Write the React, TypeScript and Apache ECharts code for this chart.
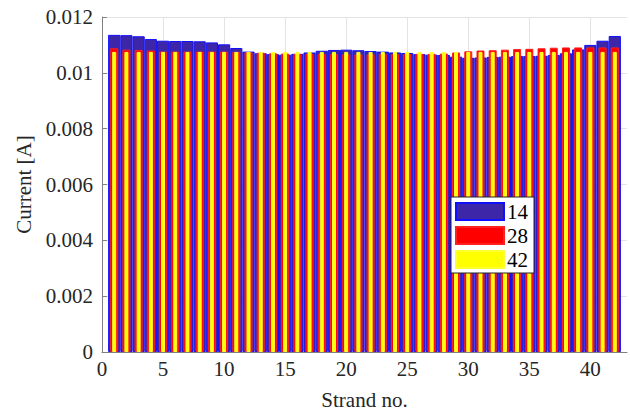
import React, { useEffect, useRef } from "react";
import * as echarts from "echarts";

// Strand numbers 1..42
const strands: number[] = Array.from({ length: 42 }, (_, i) => i + 1);

const legendNames: string[] = ["14", "28", "42"];

// Current per strand [A]
const current14: number[] = [
  0.01136, 0.01135, 0.01131, 0.01121, 0.01115, 0.01114, 0.01114, 0.01113, 0.01109, 0.01102,
  0.01089, 0.01076, 0.0107, 0.01067, 0.01065, 0.01068, 0.01073, 0.01079, 0.01082, 0.01083,
  0.01081, 0.01078, 0.01076, 0.01073, 0.01071, 0.01067, 0.01065, 0.01064, 0.01058, 0.01054,
  0.01055, 0.01057, 0.01058, 0.0106, 0.0106, 0.01061, 0.01064, 0.0107, 0.01084, 0.011,
  0.01115, 0.01132,
];
const current28: number[] = [
  0.01088, 0.01083, 0.01082, 0.0108, 0.01076, 0.01076, 0.01076, 0.01076, 0.01076, 0.01076,
  0.01075, 0.01074, 0.01072, 0.0107, 0.01069, 0.01068, 0.01068, 0.01067, 0.01067, 0.01066,
  0.01066, 0.01066, 0.01067, 0.01067, 0.01068, 0.01068, 0.01068, 0.01069, 0.01073, 0.01077,
  0.0108, 0.01081, 0.01083, 0.01085, 0.01086, 0.01088, 0.0109, 0.01091, 0.01091, 0.01091,
  0.01091, 0.01091,
];
const current42: number[] = [
  0.01075, 0.01075, 0.01075, 0.01075, 0.01075, 0.01075, 0.01075, 0.01075, 0.01075, 0.01075,
  0.01075, 0.01075, 0.01075, 0.01075, 0.01075, 0.01075, 0.01075, 0.01075, 0.01075, 0.01075,
  0.01075, 0.01075, 0.01075, 0.01075, 0.01075, 0.01075, 0.01075, 0.01075, 0.01075, 0.01075,
  0.01075, 0.01075, 0.01075, 0.01075, 0.01075, 0.01075, 0.01075, 0.01075, 0.01075, 0.01075,
  0.01075, 0.01075,
];

const FONT = "'Liberation Serif', 'Times New Roman', Times, serif";
const AXIS_GRAY = "#808080";
const GRID_GRAY = "#e3e3e3";
const TEXT = "#262626";

export default function App() {
  const ref = useRef<HTMLDivElement>(null);

  useEffect(() => {
    document.body.style.margin = "0";
    if (!ref.current) return;
    const chart = echarts.init(ref.current, undefined, { renderer: "svg" });

    const xBase = {
      type: "value" as const,
      min: 0,
      max: 43,
      interval: 5,
    };

    const seriesDefs = [
      { name: legendNames[0], data: current14, color: "#3e26a8", border: "#1010ff", width: 12.2 },
      { name: legendNames[1], data: current28, color: "#ff0000", border: "#ff2020", width: 8 },
      { name: legendNames[2], data: current42, color: "#ffff00", border: "#ffff30", width: 4 },
    ];

    const labelStyle = {
      fontFamily: FONT,
      fontSize: 21,
      color: TEXT,
    };

    chart.setOption({
      animation: false,
      backgroundColor: "#ffffff",
      textStyle: { fontFamily: FONT },
      grid: { left: 102, right: 3, top: 17, bottom: 65, containLabel: false },
      legend: {
        orient: "vertical",
        left: 451,
        top: 197,
        padding: [4, 6, 3, 4],
        itemWidth: 48,
        itemHeight: 17,
        itemGap: 3,
        backgroundColor: "#ffffff",
        borderColor: "#262626",
        borderWidth: 1,
        borderRadius: 0,
        icon: "rect",
        textStyle: {
          fontFamily: FONT,
          fontSize: 21,
          lineHeight: 20,
          color: "#000",
          padding: [0, 0, 0, -2],
        },
        data: legendNames,
      },
      xAxis: [
        {
          ...xBase,
          name: "Strand no.",
          nameLocation: "middle",
          nameGap: 37,
          nameTextStyle: { fontFamily: FONT, fontSize: 21, color: TEXT },
          axisLine: { show: true, lineStyle: { color: AXIS_GRAY, width: 1 } },
          axisTick: { show: true, inside: true, length: 5, lineStyle: { color: AXIS_GRAY } },
          axisLabel: { ...labelStyle, margin: 6, showMaxLabel: false },
          splitLine: { show: true, showMaxLine: false, lineStyle: { color: GRID_GRAY, width: 1 } },
        },
        { ...xBase, show: false },
        { ...xBase, show: false },
      ],
      yAxis: {
        type: "value",
        min: 0,
        max: 0.012,
        interval: 0.002,
        name: "Current [A]",
        nameLocation: "middle",
        nameGap: 68,
        nameTextStyle: { fontFamily: FONT, fontSize: 21, color: TEXT },
        axisLine: { show: true, lineStyle: { color: AXIS_GRAY, width: 1 } },
        axisTick: { show: true, inside: true, length: 5, lineStyle: { color: AXIS_GRAY } },
        axisLabel: {
          ...labelStyle,
          margin: 9,
          formatter: (v: number) => String(parseFloat(v.toFixed(3))),
        },
        splitLine: { show: true, lineStyle: { color: GRID_GRAY, width: 1 } },
      },
      series: seriesDefs.map((s, i) => ({
        type: "bar",
        name: s.name,
        xAxisIndex: i,
        barWidth: s.width,
        itemStyle: { color: s.color, borderColor: s.border, borderWidth: 1 },
        data: strands.map((n, k) => [n, s.data[k]]),
      })),
    });

    return () => chart.dispose();
  }, []);

  return <div ref={ref} style={{ width: 630, height: 417 }} />;
}
